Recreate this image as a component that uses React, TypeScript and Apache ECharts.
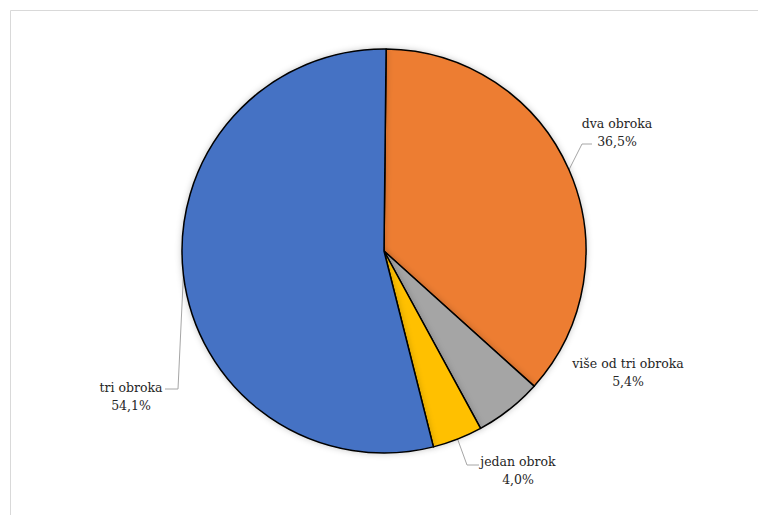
import React, { useEffect, useRef } from "react";
import * as echarts from "echarts";

const categories = ["dva obroka", "više od tri obroka", "jedan obrok", "tri obroka"];
const values = [36.5, 5.4, 4.0, 54.1];
const colors = ["#ED7D31", "#A5A5A5", "#FFC000", "#4472C4"];

// label centres and leader line elbow/end points (layout only)
const labelPos = [
  [617, 132],
  [628, 372],
  [518, 470],
  [131, 396],
];
const leaderBends: (number[][] | null)[] = [
  [[582, 144], [592, 144]],
  null,
  [[467, 465], [479, 465]],
  [[178, 389], [165, 389]],
];

const FONT = "'DejaVu Serif', 'Liberation Serif', serif";

export default function App() {
  const ref = useRef<HTMLDivElement>(null);
  useEffect(() => {
    if (!ref.current) return;
    const chart = echarts.init(ref.current, undefined, { renderer: "svg" });
    chart.setOption({
      animation: false,
      backgroundColor: "#ffffff",
      textStyle: { fontFamily: FONT },
      graphic: [
        {
          type: "rect",
          shape: { x: 10.5, y: 10.5, width: 900, height: 700 },
          style: { fill: "none", stroke: "#d9d9d9", lineWidth: 1 },
          silent: true,
        },
      ],
      series: [
        {
          type: "pie",
          center: [384, 251],
          radius: 202,
          startAngle: 89.4,
          clockwise: true,
          avoidLabelOverlap: false,
          itemStyle: {
            borderColor: "#000000",
            borderWidth: 1.5,
            shadowBlur: 6,
            shadowColor: "rgba(0,0,0,0.22)",
          },
          emphasis: { disabled: true },
          label: {
            show: true,
            position: "outside",
            fontFamily: FONT,
            fontSize: 12.5,
            lineHeight: 18,
            color: "#262626",
            align: "center",
            formatter: (p: any) =>
              `${p.name}\n${Number(p.value).toFixed(1).replace(".", ",")}%`,
          },
          labelLine: {
            show: true,
            length: 10,
            length2: 10,
            lineStyle: { color: "#a6a6a6", width: 1 },
          },
          labelLayout: (params: any) => {
            const i = params.dataIndex;
            const pos = labelPos[i];
            const bends = leaderBends[i];
            const out: any = {
              x: pos[0],
              y: pos[1],
              align: "center",
              verticalAlign: "middle",
            };
            if (bends && params.labelLinePoints) {
              const anchor = params.labelLinePoints[0];
              out.labelLinePoints = [anchor, bends[0], bends[1]];
            }
            return out;
          },
          data: categories.map((name, i) => ({
            name,
            value: values[i],
            itemStyle: { color: colors[i] },
            labelLine: { show: leaderBends[i] !== null },
          })),
        },
      ],
    });
    return () => chart.dispose();
  }, []);
  return (
    <div
      ref={ref}
      style={{ position: "absolute", left: 0, top: 0, width: 758, height: 515 }}
    />
  );
}
